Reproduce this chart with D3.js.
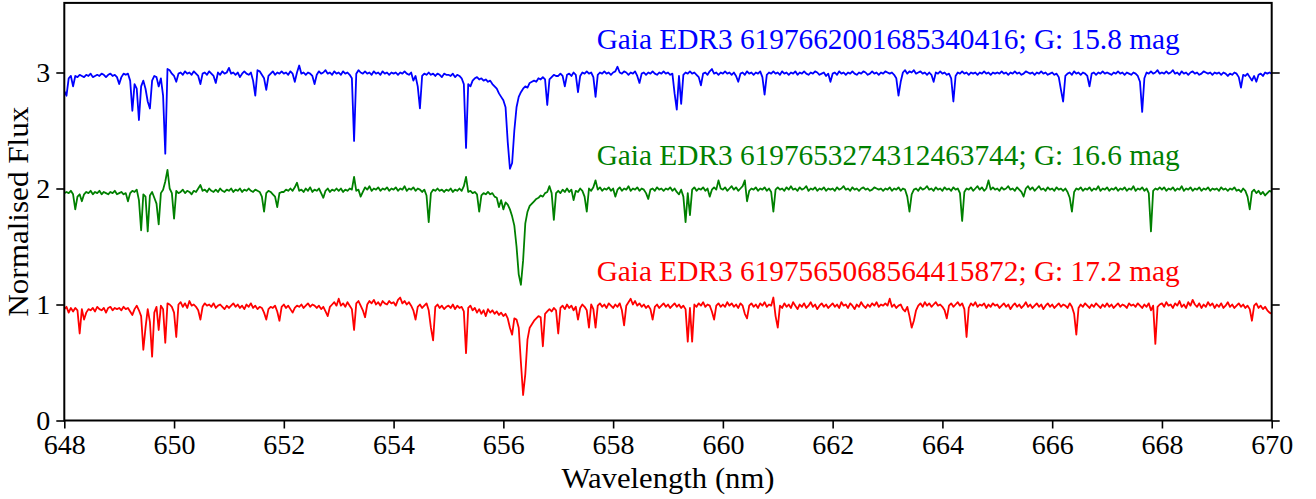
<!DOCTYPE html>
<html>
<head>
<meta charset="utf-8">
<script src="https://cdn.jsdelivr.net/npm/d3@7"></script>
<style>
  html, body { margin: 0; padding: 0; background: #fff; }
  svg { display: block; }
  text { font-family: "Liberation Serif", "DejaVu Serif", "Noto Serif", serif; }
</style>
</head>
<body>
<svg id="chart" width="1316" height="499"></svg>
<script>
// Spectra are sampled on a regular wavelength grid (nm)
const lambdaStart = 648;
const lambdaStep = 0.04;

// Normalised flux, one row per nm (25 samples), last value at 670.00 nm
const fluxBlue = [
  .84,.80,.95,.97,.88,.97,.96,.98,.97,.96,.98,.97,.99,.96,.97,.98,.97,.99,.98,.96,.98,.99,.97,.98,.96,
  .90,.96,.99,.98,.99,.93,.67,.90,.86,.59,.88,.93,.86,.75,.69,.93,.97,.96,.88,.95,.80,.30,1.03,1.02,.99,
  .97,.92,.99,1.00,.98,1.01,.99,1.00,.98,1.01,.99,.97,.90,.99,1.00,.98,1.01,.99,.97,.91,1.00,.98,1.01,.99,1.00,
  1.04,.99,1.00,.98,1.00,.96,.99,1.01,.99,.98,1.00,.93,.80,1.02,1.01,.98,.95,.85,.97,.99,1.01,.98,1.00,.99,1.01,
  .99,1.00,.98,1.01,.99,.92,1.00,1.06,.99,1.00,.98,1.00,.99,.97,.90,.98,1.01,.99,1.00,1.02,.99,1.00,.98,1.01,.99,
  1.00,.98,1.01,.99,1.00,.98,.95,.41,.99,1.02,1.00,.99,1.01,.99,1.00,.98,1.01,.99,1.00,.98,1.01,.99,1.00,.98,1.00,
  .99,1.00,.98,1.00,.99,1.01,.99,.98,1.00,.93,.97,.88,.69,.97,.99,.98,1.00,.98,.99,.97,.99,.98,.96,.99,.98,
  .98,.97,.99,.96,.98,.97,.95,.90,.35,.90,.88,.93,.95,.96,.94,.95,.93,.94,.92,.93,.90,.88,.86,.82,.79,
  .76,.70,.40,.17,.22,.50,.70,.79,.83,.86,.88,.87,.91,.92,.93,.92,.95,.94,.96,.94,.72,.94,.96,.98,.97,
  .97,.99,.97,.88,.98,.99,.97,1.00,.98,.83,.97,1.00,.99,1.01,.99,1.00,.96,.79,.98,1.00,.99,1.01,.99,1.00,.98,
  1.00,1.01,1.05,1.00,.99,1.01,1.00,.98,1.00,.99,1.01,.97,.91,.99,1.00,.98,1.00,.99,1.01,.99,.98,1.00,.99,1.01,.99,
  1.00,.98,.99,.82,.68,.97,.73,.98,1.00,.99,1.01,.99,1.00,.98,.96,.89,.99,1.00,.98,1.01,1.03,.99,1.00,.98,1.00,
  .99,1.01,.99,1.00,.98,1.00,.97,.92,.99,1.00,.98,1.01,.99,1.00,.98,1.00,.99,1.01,.96,.81,.98,1.00,.99,1.01,.99,
  1.00,.98,1.01,.99,1.00,.98,1.00,.99,1.01,.98,1.00,.99,1.01,.99,.98,1.00,.99,1.01,1.00,.98,.99,1.00,.97,.99,.92,
  .99,1.00,.98,1.01,.99,1.00,.98,1.00,.99,1.01,.99,.98,1.00,.99,1.01,1.00,.98,.99,1.01,.99,1.00,.98,1.00,.99,1.01,
  1.00,.99,1.00,.98,.95,.80,.92,1.00,1.02,.99,1.01,1.00,1.02,.99,1.00,1.01,.99,1.00,.98,1.00,.98,.92,1.00,.99,1.01,
  .99,1.00,.98,.99,.95,.75,.97,1.00,.99,1.01,.99,1.00,.98,1.00,.99,1.00,.98,1.00,.99,1.01,.99,1.00,.98,1.00,.99,
  1.00,.99,1.01,.99,1.00,.98,1.00,.99,1.01,.99,1.00,.98,.99,1.01,1.00,.99,1.00,.98,1.00,.99,1.01,.99,1.00,.98,.99,
  1.00,.98,.99,.96,.85,.75,.97,.99,1.00,.98,1.01,.99,1.00,.98,1.00,.99,.97,.88,.99,1.00,.98,1.00,.99,1.01,.99,
  1.00,.99,.98,1.00,.99,1.01,.99,1.00,.98,1.00,.99,.98,1.00,.99,.97,.92,.66,.95,1.00,.99,1.01,.99,1.00,1.02,.99,
  1.00,.99,1.01,.99,1.00,1.02,.99,1.00,.98,1.01,.99,1.00,.98,1.00,1.01,.99,1.00,.98,.99,1.01,1.00,.99,1.00,.98,1.00,
  .99,1.00,.98,1.00,.99,.97,.99,.98,1.00,.99,.96,.87,.98,.97,.99,.96,.93,.97,.92,.98,.99,.97,1.00,.99,1.00,
  .99
];

const fluxGreen = [
  .96,.97,.96,.98,.95,.82,.93,.95,.89,.95,.97,.96,.98,.95,.97,.96,.98,.95,.97,.96,.95,.97,.96,.98,.95,
  .96,.97,.95,.96,.89,.96,.98,.97,.99,.90,.64,.95,.93,.63,.94,.97,.92,.87,.69,.96,.99,1.06,1.16,1.00,.96,
  .74,.98,.96,.97,.99,.96,.98,.97,.95,.98,.97,1.00,1.03,.98,.99,.97,1.00,.98,.97,.99,.97,1.00,.98,.97,.99,
  .98,1.00,.97,.99,.98,1.00,.97,.99,.98,1.00,.98,.97,.99,.98,.97,.93,.80,.96,.98,.97,.95,.93,.84,.96,.97,
  .97,.99,.98,1.00,.98,1.01,1.05,.98,.99,.97,1.00,.98,1.01,.97,.99,.98,1.00,.96,.92,.98,1.00,.97,.99,.98,1.00,
  .98,1.00,.97,.99,.98,1.00,.99,1.10,.98,.99,.93,.97,1.01,.99,1.02,.98,1.00,.99,1.01,.98,1.00,.99,1.01,.98,1.00,
  .99,1.01,.98,1.00,.99,1.02,.98,1.00,.99,1.01,.98,1.00,.99,.97,.99,.94,.71,.96,.99,.98,1.00,.98,.99,.97,.99,
  .98,1.00,.97,.99,.98,1.00,.98,1.02,1.10,.97,.98,.96,.97,.95,.80,.94,.96,.95,.97,.95,.96,.93,.92,.84,.90,
  .82,.88,.86,.82,.76,.68,.50,.26,.17,.38,.70,.80,.85,.87,.89,.91,.92,.94,.93,.96,.97,1.02,.96,.73,.96,
  .98,.96,.99,.97,1.00,.97,.99,.90,.98,.97,1.00,.98,.93,.80,1.00,.98,1.01,1.07,.99,1.01,.98,1.00,.99,1.01,.98,
  1.00,.93,.99,1.01,.98,1.00,.99,1.02,.98,1.00,.99,1.01,.98,1.00,.99,.96,.91,.99,1.00,.98,1.01,.99,1.00,.98,1.00,
  .99,1.01,.98,1.00,.97,.95,.99,.93,.71,.96,.77,.99,1.01,.98,1.00,.99,1.01,.98,1.00,.93,.99,1.01,.99,1.07,1.00,
  .99,1.01,.98,1.00,1.02,.99,1.01,.98,1.00,1.02,1.07,.89,.98,1.00,.99,1.01,.98,1.00,.99,1.01,.98,1.00,.97,.80,.99,
  1.01,.99,1.00,.98,1.01,.99,1.02,.99,1.00,.98,1.01,.99,1.00,1.02,.98,1.00,.99,1.01,.98,1.00,.99,1.01,.98,1.00,.99,
  1.00,.98,1.01,.99,1.00,1.02,.99,1.00,.98,1.01,.99,1.00,.98,1.00,1.01,.99,1.00,.98,.99,1.01,1.00,.99,1.00,.98,1.00,
  .99,1.01,.98,1.00,.99,1.01,.98,1.00,.99,.93,.80,.95,.99,1.00,.98,1.01,.99,1.00,1.02,.99,1.00,.98,1.01,.99,1.00,
  .98,1.01,.99,1.00,.98,1.01,.99,1.00,.96,.72,.97,1.00,.99,1.01,.98,1.00,1.02,.99,1.01,.98,1.00,1.07,.99,1.01,.99,
  1.00,.98,1.01,.99,1.00,1.02,.99,1.00,.98,1.01,.99,.97,.93,1.00,1.02,.99,1.01,.98,1.00,1.02,.99,1.00,.98,1.01,.99,
  1.00,.98,1.01,.99,1.00,.98,1.00,.97,.92,.80,.97,1.00,.99,1.01,.98,1.00,.99,1.01,.98,1.00,.99,1.02,.98,1.00,.99,
  1.01,.98,1.00,.99,1.01,.98,1.00,.99,1.01,.98,1.00,.99,1.02,.98,1.00,.99,1.01,.98,1.00,.96,.63,.98,1.00,.99,1.01,
  .99,1.01,.98,1.00,.99,1.01,.98,1.00,.99,1.02,.98,1.00,.99,1.01,.98,1.00,.99,1.01,.98,1.00,.99,1.01,.98,1.00,.99,
  1.00,.98,1.01,.99,1.00,.98,1.00,.99,1.01,.98,.99,.97,1.00,.98,.93,.82,.97,.99,.96,.98,.95,.97,.94,.96,.98,
  .97
];

const fluxRed = [
  .96,.98,.93,.97,.94,.97,.95,.75,.96,.87,.93,.96,.95,.97,.94,.98,.96,.95,.97,.93,.97,.98,.95,.97,.96,
  .97,.95,.98,.96,.97,.94,.91,.96,.99,.95,.90,.61,.80,.96,.85,.55,.93,.98,.78,.99,.96,.67,1.01,1.00,.98,
  .93,.72,1.00,1.02,.98,1.01,.97,1.03,.99,1.00,.98,.95,.87,.98,1.01,.99,1.00,.98,1.01,.97,.99,1.00,.98,.96,.99,
  .97,.99,1.01,.98,1.00,.97,.99,.96,1.00,.98,1.01,.97,.99,.96,.98,.97,.93,.87,.96,.98,.97,.99,.94,.86,.98,
  1.00,.97,.99,.96,.93,.97,.99,.98,1.00,.97,.99,1.01,.98,1.00,.99,.97,.99,.96,.98,.94,.90,.98,1.00,1.02,.99,
  1.05,.99,1.01,.98,1.02,.99,.96,.78,1.01,1.03,.99,.95,.89,1.00,1.03,1.01,1.04,1.00,1.02,.99,1.03,1.01,1.00,1.03,1.01,
  1.02,.99,1.04,1.06,1.01,1.03,1.00,1.02,.99,.95,.87,.98,1.00,.97,.99,1.01,.95,.80,.69,.98,1.00,.97,.99,.96,.98,
  .99,.97,1.00,.96,.99,.97,.98,.94,.58,.97,.99,.95,.97,.93,.96,.92,.95,.90,.96,.93,.95,.92,.94,.91,.93,
  .90,.92,.88,.80,.74,.88,.87,.80,.50,.22,.40,.70,.80,.83,.86,.88,.90,.89,.64,.92,.94,.96,.94,.97,.95,
  .75,.97,.99,.96,1.00,.97,.99,.95,.98,.87,.97,1.00,.98,.95,.80,1.00,.96,.80,.99,1.01,.98,1.00,.97,1.01,.99,
  .97,1.00,.98,1.01,.95,.82,.99,1.02,1.05,1.00,1.03,.99,1.01,.98,1.00,.97,.99,.96,.87,.98,1.00,.97,.99,1.01,.98,
  1.00,.97,.99,1.01,.98,1.00,.97,.99,.96,.68,.97,.68,1.00,.98,1.01,.99,1.02,.98,1.00,.99,.94,.87,.99,1.01,.98,
  1.00,.98,1.02,.99,1.01,.98,1.00,.97,1.01,.99,.92,.88,.99,1.01,.98,1.00,.97,1.01,.99,1.02,.98,1.00,.99,1.06,.90,
  .80,.99,.97,1.01,.98,1.00,.97,1.02,.99,.96,1.00,.98,1.01,.97,.99,1.02,.98,1.00,.96,.99,1.01,.98,1.00,.97,.99,
  1.01,.98,1.00,.97,1.02,.99,1.00,.97,1.01,.99,.96,1.00,.98,1.02,.99,.97,1.00,.98,1.01,.99,1.02,.98,1.00,.99,1.01,
  .99,1.05,.98,1.00,.97,.99,1.00,.96,.94,.98,.90,.80,.86,.95,.99,1.01,.98,1.02,.99,1.01,.98,1.00,1.02,.99,1.00,
  .98,.95,.88,.99,1.01,.98,1.00,1.02,.99,1.01,.96,.72,.97,1.01,.99,1.02,.98,1.00,.99,1.01,.97,1.00,.98,1.01,.99,
  1.00,.97,.99,1.01,.98,1.00,.96,.99,1.01,.98,1.00,.97,.99,1.02,.98,1.00,.97,.99,1.01,.98,1.00,.96,.99,1.01,.98,
  1.00,.97,.99,1.01,.98,1.00,.99,.97,1.01,.98,.92,.74,.97,1.00,.98,1.01,.99,.97,1.00,.98,1.01,.99,.97,1.00,.98,
  1.01,.98,1.00,.97,.99,1.01,.98,1.00,.99,.97,1.01,.99,1.00,.98,1.01,.99,.97,1.00,.98,1.01,.95,.99,.66,.98,1.00,
  1.01,.98,1.02,.99,1.00,.97,1.01,.99,1.03,.98,1.00,.97,1.02,.99,1.04,1.00,.98,1.01,.97,1.00,.98,1.02,.99,1.01,.97,
  1.00,.98,1.01,.97,.99,1.02,.98,1.00,.97,.99,1.01,.98,1.00,.97,.99,.96,.86,.99,1.01,.97,.99,.96,.98,.95,.93,
  .92
];

const starIds = ["Gaia EDR3 6197662001685340416", "Gaia EDR3 6197653274312463744", "Gaia EDR3 6197565068564415872"];
const gMags = ["15.8", "16.6", "17.2"];
const offsets = [2, 1, 0];
const colors = ["#0000ff", "#008000", "#ff0000"];
const xTicks = [648, 650, 652, 654, 656, 658, 660, 662, 664, 666, 668, 670];
const yTicks = [0, 1, 2, 3];

const spectra = [fluxBlue, fluxGreen, fluxRed];
const serif = "'Liberation Serif', 'DejaVu Serif', 'Noto Serif', serif";

const svg = d3.select("#chart");
const x = d3.scaleLinear().domain([648, 670]).range([64.3, 1271.7]);
const y = d3.scaleLinear().domain([0, 3.6]).range([420.5, 2.9]);

svg.append("defs").append("clipPath").attr("id", "plot-clip")
  .append("rect")
  .attr("x", x(648)).attr("y", y(3.6))
  .attr("width", x(670) - x(648)).attr("height", y(0) - y(3.6));

// Spectra, shifted vertically by their offsets
const plot = svg.append("g").attr("clip-path", "url(#plot-clip)");
spectra.forEach((flux, k) => {
  const line = d3.line()
    .x((d, i) => x(lambdaStart + i * lambdaStep))
    .y(d => y(d + offsets[k]));
  plot.append("path")
    .datum(flux)
    .attr("fill", "none")
    .attr("stroke", colors[k])
    .attr("stroke-width", 1.8)
    .attr("stroke-linejoin", "round")
    .attr("d", line);
});

// Star labels
spectra.forEach((flux, k) => {
  svg.append("text")
    .attr("x", x(657.7))
    .attr("y", y(offsets[k] + 1.2))
    .attr("fill", colors[k])
    .style("font-family", serif)
    .attr("font-size", 30)
    .attr("textLength", 583)
    .attr("lengthAdjust", "spacingAndGlyphs")
    .text(`${starIds[k]}; G: ${gMags[k]} mag`);
});

// Axes
function styleAxis(g) {
  g.attr("font-family", null).attr("font-size", null);
  g.select(".domain").remove();
  g.selectAll(".tick line").attr("stroke", "#000").attr("stroke-width", 1.6);
  g.selectAll(".tick text")
    .attr("fill", "#000")
    .style("font-family", serif)
    .style("font-size", "28px");
}

svg.append("g")
  .attr("transform", `translate(0,${y(0)})`)
  .call(d3.axisBottom(x).tickValues(xTicks).tickFormat(d3.format("d"))
    .tickSize(8).tickPadding(6).tickSizeOuter(0))
  .call(styleAxis);

svg.append("g")
  .attr("transform", `translate(${x(648)},0)`)
  .call(d3.axisLeft(y).tickValues(yTicks).tickFormat(d3.format("d"))
    .tickSize(8).tickPadding(6).tickSizeOuter(0))
  .call(styleAxis);

svg.append("g")
  .attr("transform", `translate(${x(670)},0)`)
  .call(d3.axisRight(y).tickValues(yTicks).tickFormat("")
    .tickSize(8).tickSizeOuter(0))
  .call(styleAxis);

// Frame
svg.append("rect")
  .attr("x", x(648)).attr("y", y(3.6))
  .attr("width", x(670) - x(648)).attr("height", y(0) - y(3.6))
  .attr("fill", "none").attr("stroke", "#000").attr("stroke-width", 2);

// Axis titles
svg.append("text")
  .attr("x", (x(648) + x(670)) / 2)
  .attr("y", 488)
  .attr("text-anchor", "middle")
  .style("font-family", serif)
  .attr("font-size", 29)
  .attr("textLength", 213)
  .attr("lengthAdjust", "spacingAndGlyphs")
  .text("Wavelength (nm)");

svg.append("text")
  .attr("transform", `translate(28,${(y(0) + y(3.6)) / 2}) rotate(-90)`)
  .attr("text-anchor", "middle")
  .style("font-family", serif)
  .attr("font-size", 30)
  .attr("textLength", 210)
  .attr("lengthAdjust", "spacingAndGlyphs")
  .text("Normalised Flux");
</script>
</body>
</html>
